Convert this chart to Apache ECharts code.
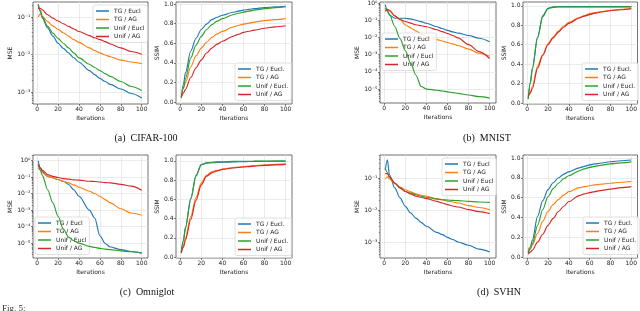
<!DOCTYPE html>
<html><head><meta charset="utf-8">
<script src="https://cdn.jsdelivr.net/npm/echarts@6/dist/echarts.min.js"></script>
<style>html,body{margin:0;padding:0;background:#fff}#c{width:640px;height:311px}</style>
</head><body><div id="c"></div>
<script>
// ---------- data ----------
const iters = [1,3,5,10,15,20,25,30,35,40,50,55,60,65,70,80,90,100];
const xTicks = [0,20,40,60,80,100];
const ssimTicks = [0,0.2,0.4,0.6,0.8,1.0];
const mseNames = ['TG / Eucl','TG / AG','Unif / Eucl','Unif / AG'];
const ssimNames = ['TG / Eucl.','TG / AG','Unif / Eucl.','Unif / AG'];
const captions = ['(a)  CIFAR-100','(b)  MNIST','(c)  Omniglot','(d)  SVHN'];

// CIFAR-100
const cifarMseTgEucl   = [0.21,0.14,0.093,0.051,0.031,0.020,0.0145,0.011,0.0082,0.0062,0.0037,0.0029,0.0023,0.0019,0.0016,0.0012,0.00091,0.00069];
const cifarMseTgAg     = [0.10,0.12,0.105,0.075,0.058,0.047,0.038,0.031,0.025,0.021,0.015,0.0128,0.011,0.0097,0.0087,0.0071,0.0063,0.0057];
const cifarMseUnifEucl = [0.22,0.15,0.10,0.056,0.037,0.027,0.020,0.015,0.011,0.0081,0.0055,0.0045,0.0037,0.0031,0.0026,0.0019,0.0014,0.0011];
const cifarMseUnifAg   = [0.17,0.17,0.155,0.115,0.093,0.078,0.066,0.056,0.048,0.041,0.032,0.028,0.025,0.022,0.019,0.015,0.012,0.0102];
const cifarSsimTgEucl   = [0.05,0.18,0.30,0.52,0.65,0.74,0.795,0.84,0.865,0.885,0.915,0.927,0.937,0.945,0.952,0.963,0.971,0.977];
const cifarSsimTgAg     = [0.08,0.14,0.20,0.36,0.47,0.55,0.61,0.66,0.695,0.72,0.765,0.78,0.795,0.805,0.815,0.83,0.84,0.85];
const cifarSsimUnifEucl = [0.04,0.14,0.24,0.45,0.58,0.67,0.74,0.79,0.825,0.85,0.89,0.905,0.917,0.927,0.937,0.952,0.963,0.972];
const cifarSsimUnifAg   = [0.05,0.09,0.13,0.25,0.35,0.43,0.50,0.55,0.59,0.62,0.67,0.69,0.71,0.722,0.733,0.752,0.767,0.778];

// MNIST
const mnistMseTgEucl   = [0.8,0.35,0.2,0.13,0.13,0.13,0.12,0.10,0.083,0.067,0.042,0.033,0.026,0.021,0.018,0.013,0.009,0.0056];
const mnistMseTgAg     = [0.35,0.45,0.35,0.18,0.11,0.055,0.036,0.024,0.016,0.011,0.0075,0.0062,0.0051,0.0042,0.0034,0.0021,0.0012,0.0008];
const mnistMseUnifEucl = [0.5,0.35,0.22,0.043,0.0085,0.0017,0.00033,0.000066,0.000014,0.00001,0.0000085,0.0000077,0.0000069,0.0000062,0.0000056,0.0000045,0.0000036,0.000003];
const mnistMseUnifAg   = [0.33,0.42,0.38,0.18,0.11,0.084,0.068,0.055,0.048,0.042,0.028,0.022,0.017,0.013,0.0095,0.0038,0.0015,0.0006];
const mnistSsimTgEucl   = [0.05,0.21,0.36,0.68,0.90,0.975,0.99,0.992,0.993,0.993,0.993,0.993,0.993,0.993,0.993,0.993,0.993,0.993];
const mnistSsimTgAg     = [0.08,0.11,0.17,0.38,0.50,0.61,0.68,0.74,0.79,0.83,0.88,0.90,0.92,0.93,0.94,0.955,0.965,0.975];
const mnistSsimUnifEucl = [0.04,0.20,0.35,0.67,0.89,0.97,0.985,0.99,0.99,0.99,0.99,0.99,0.99,0.99,0.99,0.99,0.99,0.99];
const mnistSsimUnifAg   = [0.07,0.10,0.15,0.36,0.49,0.60,0.67,0.73,0.78,0.82,0.875,0.895,0.91,0.925,0.935,0.95,0.96,0.97];

// Omniglot
const omniMseTgEucl   = [0.95,0.36,0.2,0.11,0.09,0.07,0.055,0.035,0.017,0.0068,0.001,0.00033,0.000028,0.0000095,0.0000058,0.000004,0.0000031,0.0000025];
const omniMseTgAg     = [0.36,0.26,0.18,0.11,0.089,0.07,0.055,0.044,0.033,0.024,0.0137,0.01,0.0068,0.0043,0.0027,0.0012,0.00066,0.00048];
const omniMseUnifEucl = [0.57,0.26,0.12,0.017,0.0027,0.00042,0.000071,0.000023,0.000014,0.00001,0.0000064,0.0000055,0.0000048,0.0000043,0.000004,0.0000034,0.000003,0.0000025];
const omniMseUnifAg   = [0.57,0.36,0.25,0.14,0.11,0.093,0.08,0.074,0.067,0.064,0.055,0.053,0.05,0.046,0.044,0.036,0.028,0.016];
const omniSsimTgEucl   = [0.05,0.17,0.31,0.61,0.85,0.96,0.975,0.98,0.983,0.985,0.988,0.99,0.991,0.992,0.993,0.995,0.996,0.997];
const omniSsimTgAg     = [0.05,0.12,0.20,0.42,0.62,0.77,0.85,0.885,0.90,0.915,0.93,0.935,0.94,0.945,0.95,0.958,0.963,0.968];
const omniSsimUnifEucl = [0.05,0.17,0.30,0.60,0.84,0.96,0.98,0.985,0.988,0.99,0.993,0.994,0.995,0.995,0.996,0.997,0.997,0.998];
const omniSsimUnifAg   = [0.04,0.10,0.18,0.39,0.59,0.75,0.84,0.875,0.895,0.91,0.925,0.93,0.935,0.94,0.945,0.952,0.958,0.963];

// SVHN
const svhnMseTgEucl   = [0.18,0.37,0.127,0.049,0.024,0.013,0.0081,0.0056,0.0041,0.0031,0.002,0.0017,0.0014,0.0012,0.001,0.00079,0.0006,0.00049];
const svhnMseTgAg     = [0.093,0.11,0.093,0.067,0.052,0.043,0.037,0.032,0.029,0.027,0.0226,0.021,0.019,0.0178,0.0166,0.0137,0.012,0.0103];
const svhnMseUnifEucl = [0.2,0.15,0.11,0.07,0.049,0.038,0.034,0.03,0.027,0.025,0.022,0.021,0.0205,0.02,0.0196,0.0187,0.0178,0.0174];
const svhnMseUnifAg   = [0.137,0.137,0.107,0.07,0.049,0.038,0.032,0.027,0.025,0.0226,0.0187,0.0166,0.0147,0.0134,0.0124,0.0103,0.0089,0.0077];
const svhnSsimTgEucl   = [0.05,0.10,0.17,0.41,0.57,0.68,0.75,0.80,0.835,0.86,0.90,0.915,0.93,0.94,0.947,0.962,0.972,0.98];
const svhnSsimTgAg     = [0.08,0.10,0.12,0.24,0.36,0.46,0.53,0.58,0.625,0.66,0.70,0.71,0.72,0.728,0.735,0.745,0.755,0.762];
const svhnSsimUnifEucl = [0.04,0.08,0.135,0.32,0.48,0.61,0.69,0.745,0.79,0.82,0.87,0.89,0.905,0.915,0.925,0.94,0.95,0.96];
const svhnSsimUnifAg   = [0.03,0.05,0.07,0.15,0.23,0.32,0.39,0.46,0.51,0.56,0.62,0.637,0.65,0.66,0.67,0.685,0.70,0.71];

// ---------- layout / style ----------
const COLORS = ['#1f77b4','#ff7f0e','#2ca02c','#d62728'];
const FONT = 'DejaVu Sans';
const panels = [
  {g:[33,2,115,102],  log:true,  y:[-3.32,-0.6], ticks:[-3,-2,-1], name:'MSE', gap:19, names:mseNames,
   s:[cifarMseTgEucl,cifarMseTgAg,cifarMseUnifEucl,cifarMseUnifAg], lg:[93,5]},
  {g:[176,2,116,102], log:false, y:[-0.02,1.02], ticks:ssimTicks, name:'SSIM', gap:14, names:ssimNames,
   s:[cifarSsimTgEucl,cifarSsimTgAg,cifarSsimUnifEucl,cifarSsimUnifAg], lg:[235,63]},
  {g:[380,2,116,101], log:true,  y:[-5.81,0.06], ticks:[-5,-4,-3,-2,-1,0], name:'MSE', gap:19, names:mseNames,
   s:[mnistMseTgEucl,mnistMseTgAg,mnistMseUnifEucl,mnistMseUnifAg], lg:[382,33]},
  {g:[523,2,115,102], log:false, y:[-0.01,1.04], ticks:ssimTicks, name:'SSIM', gap:14, names:ssimNames,
   s:[mnistSsimTgEucl,mnistSsimTgAg,mnistSsimUnifEucl,mnistSsimUnifAg], lg:[582,63]},
  {g:[33,155,115,103], log:true, y:[-5.9,0.33], ticks:[-5,-4,-3,-2,-1,0], name:'MSE', gap:19, names:mseNames,
   s:[omniMseTgEucl,omniMseTgAg,omniMseUnifEucl,omniMseUnifAg], lg:[35,217]},
  {g:[176,155,116,103], log:false, y:[-0.01,1.06], ticks:ssimTicks, name:'SSIM', gap:14, names:ssimNames,
   s:[omniSsimTgEucl,omniSsimTgAg,omniSsimUnifEucl,omniSsimUnifAg], lg:[235,218]},
  {g:[380,155,116,103], log:true, y:[-3.5,-0.28], ticks:[-3,-2,-1], name:'MSE', gap:19, names:mseNames,
   s:[svhnMseTgEucl,svhnMseTgAg,svhnMseUnifEucl,svhnMseUnifAg], lg:[442,158]},
  {g:[523,155,115,103], log:false, y:[-0.01,1.03], ticks:ssimTicks, name:'SSIM', gap:14, names:ssimNames,
   s:[svhnSsimTgEucl,svhnSsimTgAg,svhnSsimUnifEucl,svhnSsimUnifAg], lg:[583,217]}
];
const SUP = {'0':'⁰','1':'¹','2':'²','3':'³','4':'⁴','5':'⁵','6':'⁶','7':'⁷','8':'⁸','9':'⁹','-':'⁻'};
const supFmt = v => '10' + String(Math.round(v)).split('').map(c => SUP[c]).join('');
const labelStyle = {fontSize:6, fontFamily:FONT, color:'#222'};
const minorTicks = r => {
  const out = [];
  for (let n = Math.floor(r[0]); n <= Math.ceil(r[1]); n++)
    for (let k = 2; k <= 9; k++) { const v = n + Math.log10(k); if (v > r[0] && v < r[1]) out.push(v); }
  return out;
};

const option = {
  animation:false,
  backgroundColor:'#fff',
  grid: panels.map(p => ({left:p.g[0], top:p.g[1], width:p.g[2], height:p.g[3], show:true,
     borderColor:'#333', borderWidth:0.7, containLabel:false})),
  xAxis: panels.map((p,i) => ({gridIndex:i, type:'value', min:-4, max:106,
     name:'Iterations', nameLocation:'middle', nameGap:11, nameTextStyle:labelStyle,
     axisLine:{show:false, onZero:false},
     axisTick:{show:true, length:2, customValues:xTicks, lineStyle:{color:'#333', width:0.6}},
     axisLabel:Object.assign({customValues:xTicks, margin:2.5}, labelStyle),
     splitLine:{show:true, lineStyle:{color:'#e3e3e3', width:0.7}}})),
  yAxis: panels.map((p,i) => ({gridIndex:i, type:'value', min:p.y[0], max:p.y[1],
     name:p.name, nameLocation:'middle', nameGap:p.gap, nameTextStyle:labelStyle,
     axisLine:{show:false, onZero:false},
     axisTick:{show:true, length:2, customValues:p.ticks, lineStyle:{color:'#333', width:0.6}},
     axisLabel:Object.assign({customValues:p.ticks, margin:2.5,
        formatter: p.log ? supFmt : (v => v.toFixed(1))}, labelStyle),
     splitLine:{show:true, lineStyle:{color:'#e3e3e3', width:0.7}}})),
  legend: panels.map(p => ({left:p.lg[0], top:p.lg[1], orient:'vertical', data:p.names,
     icon:'rect', itemWidth:13, itemHeight:1.5, itemGap:1.5, padding:[2.5,3,2.5,3],
     borderColor:'#d4d4d4', borderWidth:0.7, borderRadius:2, backgroundColor:'rgba(255,255,255,0.85)',
     selectedMode:false, textStyle:{fontSize:6, fontFamily:FONT, color:'#222', lineHeight:7}})),
  series: [],
  graphic: []
};
// minor log ticks (matplotlib style) on extra, label-less axes
panels.forEach((p,i) => {
  if (!p.log) return;
  const mt = minorTicks(p.y);
  option.yAxis.push({gridIndex:i, type:'value', min:p.y[0], max:p.y[1], position:'left',
     axisLine:{show:false, onZero:false},
     axisTick:{show:true, length:1.2, customValues:mt, lineStyle:{color:'#333', width:0.5}},
     axisLabel:{show:false, customValues:mt}, splitLine:{show:false}});
});
panels.forEach((p,i) => {
  p.s.forEach((vals,k) => {
    option.series.push({
      type:'line', name:p.names[k], xAxisIndex:i, yAxisIndex:i,
      data: iters.map((x,j) => [x, p.log ? Math.log10(vals[j]) : vals[j]]),
      showSymbol:false, symbol:'none', smooth:0.3, smoothMonotone:'x',
      lineStyle:{color:COLORS[k], width:1.15}, itemStyle:{color:COLORS[k]}, z:2+k
    });
  });
});
const capPos = [[146,138],[487,138],[147,292],[499,292]];
captions.forEach((t,i) => option.graphic.push({type:'text', x:capPos[i][0], y:capPos[i][1],
  style:{text:t, align:'center', verticalAlign:'middle', fontSize:10, fontFamily:'Liberation Serif', fill:'#111'}}));
option.graphic.push({type:'text', x:2, y:309, style:{text:'Fig. 5:', align:'left', verticalAlign:'middle',
  fontSize:9, fontFamily:'Liberation Serif', fill:'#333'}});

const chart = echarts.init(document.getElementById('c'), null, {renderer:'canvas'});
chart.setOption(option);
</script></body></html>
